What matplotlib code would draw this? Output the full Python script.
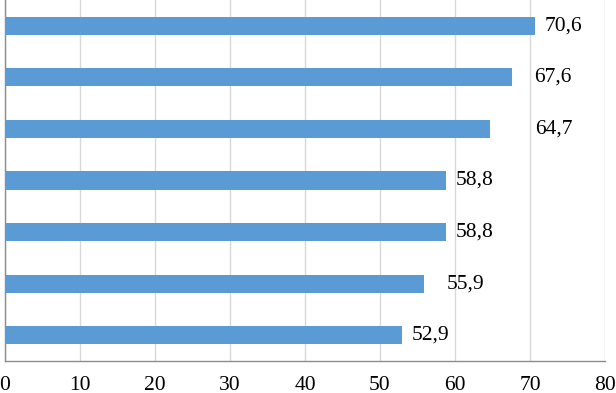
import matplotlib
matplotlib.use("Agg")
import matplotlib.pyplot as plt

values = [52.9, 55.9, 58.8, 58.8, 64.7, 67.6, 70.6]
labels = ["52,9", "55,9", "58,8", "58,8", "64,7", "67,6", "70,6"]
xticks = [0, 10, 20, 30, 40, 50, 60, 70, 80]
label_offsets_px = [10, 22, 10, 10, 45, 22, 10]

plt.rcParams['font.family'] = ['Liberation Serif', 'DejaVu Serif']

fig = plt.figure(figsize=(6.16, 3.93), dpi=100)
ax = fig.add_axes([5/616, 32/393, 600/616, 361/393])

y = list(range(len(values)))
ax.barh(y, values, height=0.35, color="#5B9BD5", zorder=3)
ax.set_xlim(0, 80)
ax.set_ylim(-0.5, len(values) - 0.5)
ax.set_xticks(xticks)
ax.set_xticklabels([str(t) for t in xticks], fontsize=15.5)
ax.set_yticks([])
ax.tick_params(axis='x', length=0, pad=11)
ax.grid(axis='x', color="#D9D9D9", linewidth=1, zorder=0)
for s in ['top', 'right']:
    ax.spines[s].set_visible(False)
for s in ['left', 'bottom']:
    ax.spines[s].set_color("#8C8C8C")
    ax.spines[s].set_linewidth(1)

for yi, v, lab, off in zip(y, values, labels, label_offsets_px):
    ax.annotate(lab, xy=(v, yi), xytext=(off * 0.72, 0), textcoords='offset points',
                va='center', ha='left', fontsize=15.5, color='black', zorder=4)

fig.savefig("out.png", dpi=100)
